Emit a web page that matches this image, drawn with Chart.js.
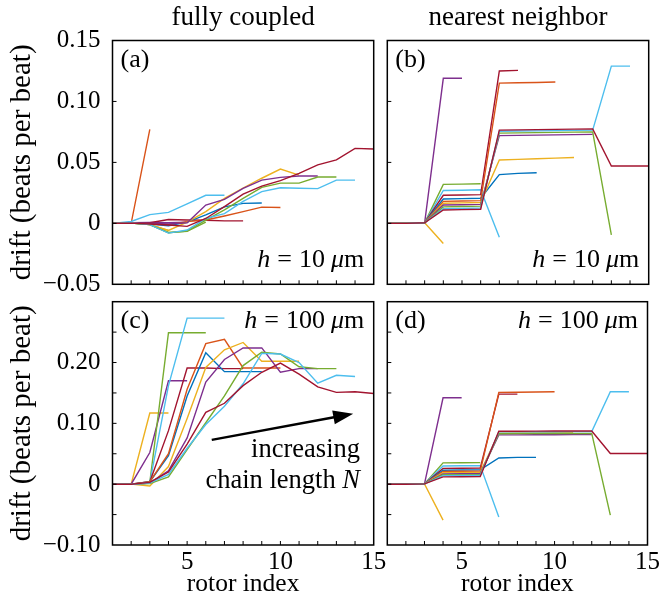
<!DOCTYPE html>
<html>
<head>
<meta charset="utf-8">
<script src="https://cdn.jsdelivr.net/npm/chart.js@4.4.0/dist/chart.umd.min.js"></script>
<style>
  body { margin: 0; background: #fff; }
  #wrap { position: relative; width: 662px; height: 603px; }
  #wrap canvas { position: absolute; left: 0; top: 0; }
</style>
</head>
<body>
<div id="wrap">
  <canvas id="pa"></canvas>
  <canvas id="pb"></canvas>
  <canvas id="pc"></canvas>
  <canvas id="pd"></canvas>
</div>
<script>
// one line per chain length N, rotor index runs 1..N
var chainN = [2, 3, 4, 5, 6, 7, 8, 9, 10, 11, 12, 13, 14, 15];
var lineColors = ["#0072BD", "#D95319", "#EDB120", "#7E2F8E", "#77AC30", "#4DBEEE", "#A2142F"];

// tick labels
var xTickVals = [5, 10, 15];
var yTickValsTop = [-0.05, 0, 0.05, 0.10, 0.15];
var yTickTextTop = ["\u22120.05", "0", "0.05", "0.10", "0.15"];
var yTickValsBottom = [-0.10, 0, 0.10, 0.20];
var yTickTextBottom = ["\u22120.10", "0", "0.10", "0.20"];

// (a) fully coupled, h = 10 um
var driftA = [
  [0, 0],
  [0, 0, 0.077],
  [0, 0.0005, -0.001, -0.0058],
  [0, 0.0005, 0.0008, 0.0005, 0.001],
  [0, 0.0003, -0.001, -0.0075, -0.0065, 0.001],
  [0, 0.0015, 0.0072, 0.009, 0.016, 0.023, 0.023],
  [0, 0.0005, 0.0005, 0.0032, 0.0028, 0.0025, 0.002, 0.002],
  [0, 0.0003, -0.0005, -0.002, 0.001, 0.007, 0.0135, 0.0164, 0.0167],
  [0, 0.0002, -0.0003, -0.001, 0.0014, 0.0027, 0.006, 0.0096, 0.0133, 0.013],
  [0, 0.0003, -0.001, -0.0058, 0.001, 0.0096, 0.0205, 0.029, 0.037, 0.0445, 0.0395],
  [0, 0.0003, 0.0002, -0.0005, 0.0005, 0.015, 0.0197, 0.0287, 0.0355, 0.0377, 0.0388, 0.0388],
  [0, 0.0002, -0.001, -0.0077, -0.0064, 0.0027, 0.011, 0.0205, 0.0295, 0.033, 0.033, 0.038, 0.038],
  [0, 0.0003, -0.001, -0.008, -0.0055, 0.004, 0.008, 0.018, 0.026, 0.0292, 0.0288, 0.0285, 0.0355, 0.0355],
  [0, 0.0002, -0.0005, -0.0014, -0.0025, 0.004, 0.0137, 0.024, 0.0306, 0.035, 0.041, 0.048, 0.052, 0.0615, 0.061]
];

// (b) nearest neighbor, h = 10 um
var driftB = [
  [0, 0],
  [0, 0, 0.0005],
  [0, 0, 0.0005, -0.0165],
  [0, 0, 0.0005, 0.119, 0.119],
  [0, 0, 0.0005, 0.032, 0.0322, 0.0325],
  [0, 0, 0.0005, 0.027, 0.0272, 0.0275, -0.0115],
  [0, 0, 0.0005, 0.023, 0.0233, 0.0236, 0.125, 0.1255],
  [0, 0, 0.0005, 0.020, 0.0203, 0.0206, 0.040, 0.041, 0.0415],
  [0, 0, 0.0005, 0.018, 0.0183, 0.0186, 0.115, 0.1153, 0.1156, 0.116],
  [0, 0, 0.0005, 0.0165, 0.0168, 0.0171, 0.052, 0.0525, 0.053, 0.0535, 0.054],
  [0, 0, 0.0005, 0.015, 0.0153, 0.0156, 0.072, 0.0722, 0.0724, 0.0726, 0.0728, 0.073],
  [0, 0, 0.0005, 0.0135, 0.0138, 0.0141, 0.074, 0.0742, 0.0744, 0.0746, 0.0748, 0.075, -0.0095],
  [0, 0, 0.0005, 0.012, 0.0123, 0.0126, 0.0755, 0.0757, 0.0759, 0.0761, 0.0763, 0.0765, 0.129, 0.129],
  [0, 0, 0.0005, 0.011, 0.0113, 0.0116, 0.0765, 0.0767, 0.0769, 0.0771, 0.0773, 0.0775, 0.047, 0.047, 0.047]
];

// (c) fully coupled, h = 100 um
var driftC = [
  [0, 0],
  [0, 0, 0.002],
  [0, 0, 0.117, 0.117],
  [0, 0, 0.052, 0.17, 0.17],
  [0, 0, 0.003, 0.249, 0.249, 0.249],
  [0, 0, 0.003, 0.162, 0.273, 0.273, 0.273],
  [0, 0, 0.004, 0.088, 0.191, 0.191, 0.19, 0.19],
  [0, 0, 0.004, 0.047, 0.145, 0.216, 0.185, 0.185, 0.185],
  [0, 0, 0.004, 0.05, 0.156, 0.231, 0.238, 0.191, 0.191, 0.191],
  [0, 0, -0.003, 0.029, 0.108, 0.192, 0.221, 0.233, 0.202, 0.202, 0.202],
  [0, 0, 0.002, 0.022, 0.076, 0.168, 0.205, 0.224, 0.224, 0.184, 0.19, 0.19],
  [0, 0, 0.001, 0.012, 0.057, 0.101, 0.145, 0.195, 0.217, 0.214, 0.193, 0.19, 0.19],
  [0, 0, 0.002, 0.016, 0.059, 0.098, 0.128, 0.165, 0.215, 0.214, 0.2, 0.166, 0.179, 0.177],
  [0, 0, 0.003, 0.02, 0.066, 0.118, 0.133, 0.162, 0.184, 0.199, 0.181, 0.16, 0.151, 0.152, 0.149]
];

// (d) nearest neighbor, h = 100 um
var driftD = [
  [0, 0],
  [0, 0, 0.0005],
  [0, 0, 0.0005, -0.059],
  [0, 0, 0.0005, 0.142, 0.142],
  [0, 0, 0.0005, 0.035, 0.0352, 0.0355],
  [0, 0, 0.0005, 0.030, 0.0302, 0.0305, -0.054],
  [0, 0, 0.0005, 0.026, 0.0262, 0.0265, 0.148, 0.148],
  [0, 0, 0.0005, 0.023, 0.0232, 0.0235, 0.043, 0.044, 0.044],
  [0, 0, 0.0005, 0.021, 0.0212, 0.0215, 0.151, 0.1512, 0.1515, 0.152],
  [0, 0, 0.0005, 0.019, 0.0192, 0.0195, 0.084, 0.0842, 0.0844, 0.0846, 0.0848],
  [0, 0, 0.0005, 0.017, 0.0172, 0.0175, 0.081, 0.0811, 0.0812, 0.0813, 0.0814, 0.0815],
  [0, 0, 0.0005, 0.0155, 0.0157, 0.016, 0.083, 0.0831, 0.0832, 0.0833, 0.0834, 0.0835, -0.051],
  [0, 0, 0.0005, 0.014, 0.0142, 0.0145, 0.086, 0.0861, 0.0862, 0.0863, 0.0864, 0.0865, 0.152, 0.152],
  [0, 0, 0.0005, 0.012, 0.0122, 0.0125, 0.087, 0.0871, 0.0872, 0.0873, 0.0874, 0.0875, 0.0505, 0.0505, 0.0505]
];

var FONT = '"Liberation Serif", "Times New Roman", serif';
Chart.defaults.font.family = FONT;
Chart.defaults.font.size = 25;
Chart.defaults.color = "#000";

// text with mixed italic pieces; a number is a gap in px
function drawRich(ctx, parts, x, y, align, size) {
  var w = 0;
  parts.forEach(function (p) {
    if (typeof p === "number") { w += p; return; }
    ctx.font = (p[1] ? "italic " : "") + size + "px " + FONT;
    w += ctx.measureText(p[0]).width;
  });
  var cx = align === "right" ? x - w : (align === "center" ? x - w / 2 : x);
  parts.forEach(function (p) {
    if (typeof p === "number") { cx += p; return; }
    ctx.font = (p[1] ? "italic " : "") + size + "px " + FONT;
    ctx.fillText(p[0], cx, y);
    cx += ctx.measureText(p[0]).width;
  });
}

// frame, inward ticks and the labels inside each panel
function decor(info) {
  return {
    id: "decor",
    afterDatasetsDraw: function (chart) {
      var ctx = chart.ctx, a = chart.chartArea;
      var xs = chart.scales.x, ys = chart.scales.y;
      ctx.save();
      ctx.strokeStyle = "#000";
      ctx.fillStyle = "#000";
      ctx.lineWidth = 1.5;
      ctx.strokeRect(a.left, a.top, a.right - a.left, a.bottom - a.top);

      ctx.lineWidth = 1;
      ctx.beginPath();
      xs.ticks.forEach(function (t) {
        var px = xs.getPixelForValue(t.value);
        if (px < a.left + 1 || px > a.right - 1) return;
        ctx.moveTo(px, a.bottom);
        ctx.lineTo(px, a.bottom - 4);
      });
      ys.ticks.forEach(function (t) {
        var py = ys.getPixelForValue(t.value);
        if (py < a.top + 1 || py > a.bottom - 1) return;
        ctx.moveTo(a.left, py);
        ctx.lineTo(a.left + 4, py);
      });
      ctx.stroke();

      ctx.textAlign = "left";
      ctx.textBaseline = "alphabetic";
      drawRich(ctx, [[info.letter, 0]], a.left + 8, a.top + 26.5, "left", 26);
      var hy = info.hTop ? a.top + 26.6 : a.bottom - 17.6;
      drawRich(ctx, [["h", 1], 7, ["=", 0], 7, [info.h, 0], 6, ["\u03bc", 1], ["m", 0]], a.right - 9.5, hy, "right", 26);
      if (info.title) {
        drawRich(ctx, [[info.title, 0]], (a.left + a.right) / 2, a.top - 15.5, "center", 27);
      }
      if (info.arrow) {
        var x0 = xs.getPixelForValue(info.arrow[0]), y0 = ys.getPixelForValue(info.arrow[1]);
        var x1 = xs.getPixelForValue(info.arrow[2]), y1 = ys.getPixelForValue(info.arrow[3]);
        var ang = Math.atan2(y1 - y0, x1 - x0);
        var hl = 20, hw = 7;
        var bx = x1 - hl * Math.cos(ang), by = y1 - hl * Math.sin(ang);
        ctx.lineWidth = 2.5;
        ctx.beginPath();
        ctx.moveTo(x0, y0);
        ctx.lineTo(bx + 2 * Math.cos(ang), by + 2 * Math.sin(ang));
        ctx.stroke();
        ctx.beginPath();
        ctx.moveTo(x1, y1);
        ctx.lineTo(bx + hw * Math.sin(ang), by - hw * Math.cos(ang));
        ctx.lineTo(bx - hw * Math.sin(ang), by + hw * Math.cos(ang));
        ctx.closePath();
        ctx.fill();
        drawRich(ctx, [["increasing", 0]], a.right - 13.7, a.top + 155, "right", 26.5);
        drawRich(ctx, [["chain length ", 0], ["N", 1]], a.right - 13.7, a.top + 186.6, "right", 26.5);
      }
      ctx.restore();
    }
  };
}

function tickText(vals, texts) {
  return function (v) {
    for (var i = 0; i < vals.length; i++) {
      if (Math.abs(vals[i] - v) < 1e-6) return texts[i];
    }
    return "";
  };
}

function makePanel(id, series, box, info) {
  var canvas = document.getElementById(id);
  canvas.width = 662;
  canvas.height = 603;
  var datasets = series.map(function (vals, k) {
    return {
      label: "N = " + chainN[k],
      data: vals.map(function (v, i) { return { x: i + 1, y: v }; }),
      borderColor: lineColors[k % lineColors.length],
      borderWidth: 1.4,
      pointRadius: 0,
      fill: false,
      tension: 0,
      order: series.length - k   // longer chains drawn on top
    };
  });
  return new Chart(canvas, {
    type: "line",
    data: { datasets: datasets },
    options: {
      responsive: false,
      animation: false,
      events: [],
      layout: { padding: { left: 0, top: box.top, right: 662 - box.right, bottom: 0 } },
      plugins: { legend: { display: false }, tooltip: { enabled: false } },
      scales: {
        x: {
          type: "linear", min: 1, max: 15,
          afterFit: function (s) { s.height = 603 - box.bottom; },
          grid: { display: false, drawTicks: false },
          border: { display: false },
          ticks: {
            display: info.xLabels, stepSize: 1, autoSkip: false, maxRotation: 0, padding: 2,
            callback: function (v) { return xTickVals.indexOf(v) >= 0 ? String(v) : ""; }
          },
          title: { display: info.xLabels, text: "rotor index", font: { size: 25.5 }, padding: { top: 0, bottom: 3 } }
        },
        y: {
          min: info.yMin, max: info.yMax,
          afterFit: function (s) { s.width = box.left; },
          grid: { display: false, drawTicks: false },
          border: { display: false },
          ticks: {
            display: info.yLabels, stepSize: 0.05, autoSkip: false, padding: 12,
            callback: tickText(info.yVals, info.yText)
          },
          title: { display: info.yLabels, text: "drift (beats per beat)", font: { size: 29 }, padding: { top: 5, bottom: 0 } }
        }
      }
    },
    plugins: [decor(info)]
  });
}

var topBox = { top: 40.5, bottom: 284.3 };
var botBox = { top: 301.7, bottom: 545 };

makePanel("pa", driftA, { left: 112.5, right: 373.7, top: topBox.top, bottom: topBox.bottom }, {
  letter: "(a)", h: "10", hTop: false, title: "fully coupled",
  xLabels: false, yLabels: true, yMin: -0.05, yMax: 0.15, yVals: yTickValsTop, yText: yTickTextTop
});
makePanel("pb", driftB, { left: 387.3, right: 648.7, top: topBox.top, bottom: topBox.bottom }, {
  letter: "(b)", h: "10", hTop: false, title: "nearest neighbor",
  xLabels: false, yLabels: false, yMin: -0.05, yMax: 0.15, yVals: yTickValsTop, yText: yTickTextTop
});
makePanel("pc", driftC, { left: 112.5, right: 373.7, top: botBox.top, bottom: botBox.bottom }, {
  letter: "(c)", h: "100", hTop: true, arrow: [6.32, 0.0728, 13.9, 0.1157],
  xLabels: true, yLabels: true, yMin: -0.10, yMax: 0.30, yVals: yTickValsBottom, yText: yTickTextBottom
});
makePanel("pd", driftD, { left: 387.3, right: 648.7, top: botBox.top, bottom: botBox.bottom }, {
  letter: "(d)", h: "100", hTop: true,
  xLabels: true, yLabels: false, yMin: -0.10, yMax: 0.30, yVals: yTickValsBottom, yText: yTickTextBottom
});
</script>
</body>
</html>
